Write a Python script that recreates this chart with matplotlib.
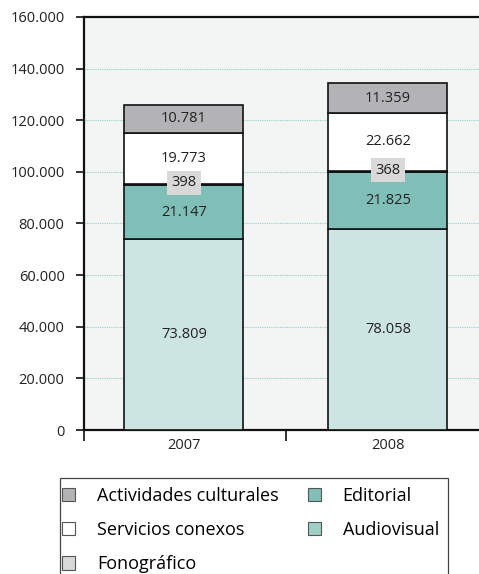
import matplotlib
matplotlib.use('Agg')
import matplotlib.pyplot as plt
from matplotlib.patches import Patch, Rectangle
import numpy as np

plt.rcParams['font.family'] = ['Open Sans', 'DejaVu Sans']

years = ['2007', '2008']
series_names = ['Audiovisual', 'Editorial', 'Fonográfico', 'Servicios conexos', 'Actividades culturales']
audiovisual = [73809, 78058]
editorial = [21147, 21825]
fonografico = [398, 368]
servicios = [19773, 22662]
actividades = [10781, 11359]
y_ticks = [0, 20000, 40000, 60000, 80000, 100000, 120000, 140000, 160000]

series_values = [audiovisual, editorial, fonografico, servicios, actividades]
series_colors = ['#cde5e2', '#80bfb8', '#d8d8d8', '#ffffff', '#b3b3b5']
legend_colors = {'Audiovisual': '#9fd0c8', 'Editorial': '#80bfb8', 'Fonográfico': '#d8d8d8',
                 'Servicios conexos': '#ffffff', 'Actividades culturales': '#b3b3b5'}


def fmt(v):
    return f"{v:,}".replace(',', '.')


fig = plt.figure(figsize=(4.79, 5.74), dpi=100)
ax = fig.add_axes([84 / 479, 144 / 574, 0.8475, 413 / 574])
ax.set_facecolor('#f3f5f4')

x = np.arange(len(years))
bar_w = 0.583
bottom = np.zeros(len(years))
for name, vals, col in zip(series_names, series_values, series_colors):
    vals = np.array(vals, dtype=float)
    ax.bar(x, vals, bar_w, bottom=bottom, color=col, edgecolor='#111111', linewidth=1.2, zorder=3)
    for xi, b, v in zip(x, bottom, vals):
        if name == 'Fonográfico':
            ax.text(xi, b + v / 2 + 600, fmt(int(v)), ha='center', va='center', fontsize=10.5,
                    color='#222222', zorder=5,
                    bbox=dict(boxstyle='square,pad=0.3', facecolor='#d9d9d9', edgecolor='none'))
        else:
            ax.text(xi, b + v / 2, fmt(int(v)), ha='center', va='center', fontsize=10.5,
                    color='#222222', zorder=5)
    bottom += vals

ax.set_xlim(-0.49, 1.5)
ax.set_ylim(0, 160000)
ax.set_yticks(y_ticks)
ax.set_yticklabels([fmt(t) for t in y_ticks], fontsize=10.5, color='#222222')
for t in y_ticks[1:-1]:
    ax.axhline(t, color='#8fd0cc', linestyle=(0, (1, 1)), linewidth=0.8, zorder=1)

ax.set_xticks([-0.49, 0.5])
ax.set_xticklabels(['', ''])
ax.set_xticks(x, minor=True)
ax.set_xticklabels(years, minor=True, fontsize=10.5, color='#222222')
ax.tick_params(axis='x', which='major', length=8, width=1.2, direction='out', color='#111111')
ax.tick_params(axis='x', which='minor', length=0, pad=6)
ax.tick_params(axis='y', length=6, width=1.2, direction='out', color='#111111', pad=8)

for s in ['left', 'bottom', 'top']:
    ax.spines[s].set_color('#111111')
    ax.spines[s].set_linewidth(1.6)
ax.spines['right'].set_visible(False)

# legend
order = ['Actividades culturales', 'Servicios conexos', 'Fonográfico', 'Editorial', 'Audiovisual']
handles = [Patch(facecolor=legend_colors[n], edgecolor='#555555', linewidth=0.8) for n in order]
fig.legend(handles, order, loc='upper left', bbox_to_anchor=(60 / 479, 1 - 485 / 574), ncol=2,
           frameon=False, fontsize=13, handlelength=0.75, handleheight=0.75, handletextpad=1.2,
           labelspacing=0.9, columnspacing=1.6, borderaxespad=0, borderpad=0.1)
fig.patches.append(Rectangle((60 / 479, -0.05), (448 - 60) / 479, 1 - 478 / 574 + 0.05,
                             transform=fig.transFigure, facecolor='none', edgecolor='#444444',
                             linewidth=0.9))

fig.savefig('out.png', dpi=100)
